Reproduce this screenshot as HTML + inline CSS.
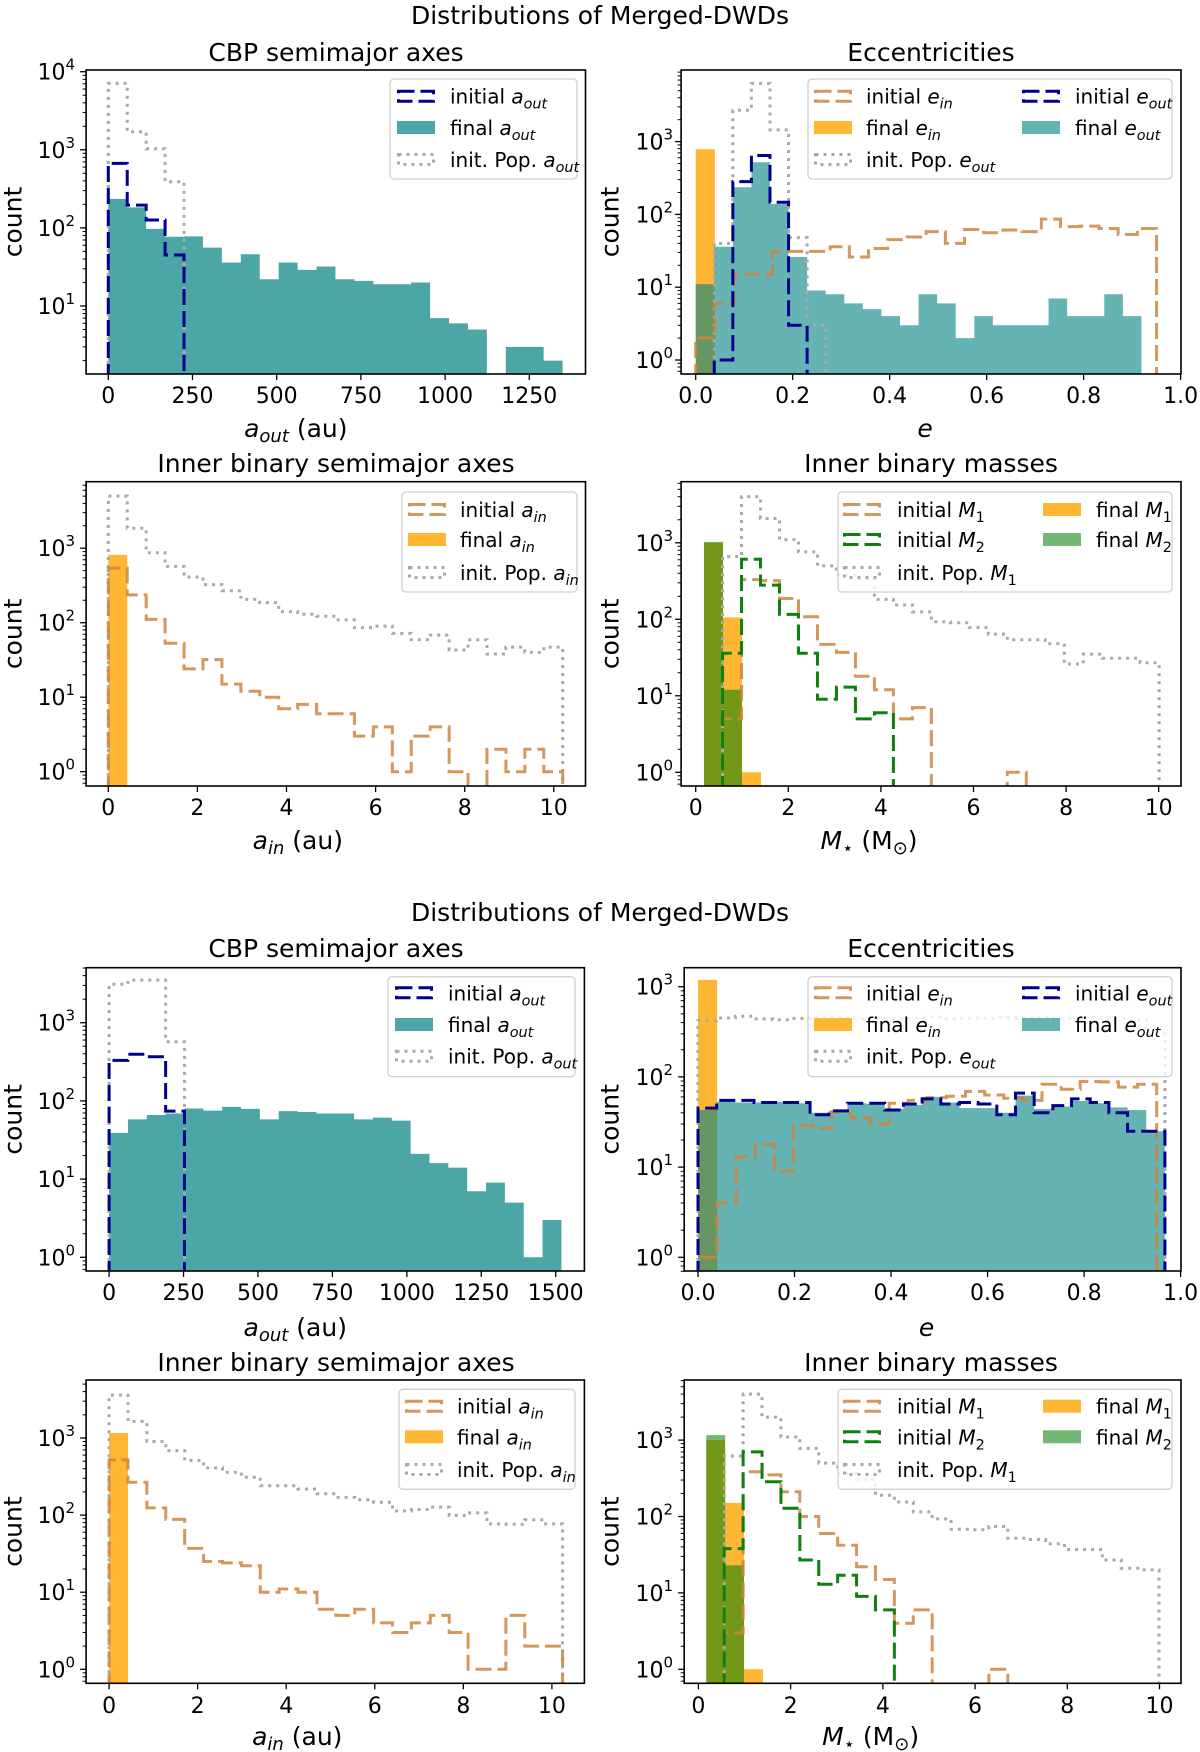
<!DOCTYPE html>
<html><head><meta charset="utf-8">
<style>
html,body{margin:0;padding:0;background:#fff;}
svg{display:block;font-family:"DejaVu Sans","Liberation Sans",sans-serif;}
.t{font-size:25px;fill:#000;text-anchor:middle;}
.tick{font-size:22px;fill:#000;}
.leg{font-size:20px;fill:#000;}
</style></head>
<body>
<svg id="fig" width="1200" height="1752" viewBox="0 0 1200 1752" xmlns="http://www.w3.org/2000/svg">
<rect x="0" y="0" width="1200" height="1752" fill="#fff"/>
<text class="t" x="600" y="24">Distributions of Merged-DWDs</text>
<text class="t" x="600" y="921">Distributions of Merged-DWDs</text>
<g id="plots"></g>
</svg>
<script>
// ---------------- DATA ----------------
// Panel 1 (top set): CBP semimajor axes
const p1Start = 0, p1Width = 56.2;
const p1FinalAout = [235,183,97,77,78,56,36,46,22,36,29,32,22,21,19,19,20,7,6,5,0,3,3,2];
const p1InitAout = [670,196,126,45];
const p1PopAout = [7100,1700,1030,390];
// Panel 2: eccentricities
const p2EoutWidth = 0.0383, p2EinWidth = 0.0396;
const p2FinalEin = [785];
const p2FinalEout = [11,36,236,520,139,26,9,8,6,5,4,3,8,6,2,4,3,3,3,7,4,4,8,4];
const p2InitEout = [0,1,282,643,147,3];
const p2PopEout = [0,40,2700,6300,1450,48,3];
const p2InitEin = [2,6,15,15,31,31,31,36,26,34,45,49,58,40,62,56,61,58,86,68,69,64,53,64];
// Panel 3: inner semimajor axes
const p3Width = 0.425;
const p3InitAin = [540,236,111,53,24,32,15,12,10,7,8,6,6,3,4,1,3,4,1,0,2,1,2,1];
const p3FinalAin = [815];
const p3PopAin = [5000,1850,870,570,410,325,268,206,186,141,130,122,109,86,90,72,59,68,43,59,38,47,40,47];
// Panel 4: inner masses
const p4FinalStart = 0.18, p4InitStart = 0.58, p4Width = 0.41;
const p4FinalM1 = [1000,106,1];
const p4FinalM2 = [1030,12];
const p4InitM1 = [5,330,320,187,108,47,37,18,12,5,7,0,0,0,0,1];
const p4InitM2 = [36,610,280,116,36,9,13,5,6];
const p4PopM1 = [660,4000,2080,1100,760,500,380,340,182,154,125,93,90,78,64,54,54,48,26,35,31,31,27];
// Panel 5 (bottom set): CBP semimajor axes
const p5Width = 63.3;
const p5FinalAout = [39,58,66,69,80,75,84,79,58,74,72,69,69,58,61,56,21,16,14,7,9,5,1,3];
const p5InitAout = [330,395,367,74];
const p5PopAout = [3100,3500,3500,570];
// Panel 6: eccentricities
const p6EoutWidth = 0.0387, p6EinWidth = 0.0396;
const p6FinalEin = [1190];
const p6FinalEout = [43,53,52,52,53,51,40,42,51,50,44,49,60,52,45,45,40,62,44,47,54,51,46,43,25];
const p6InitEout = [45,55,55,52,52,52,38,42,51,51,43,50,57,50,52,50,38,66,40,48,57,52,40,25,25];
const p6InitEin = [1,4,13,18,9,29,27,41,35,30,51,55,59,61,69,63,58,55,83,73,89,88,77,83];
const p6PopEout = [420,450,470,440,430,445,460,455,440,450,445,450,460,440,450,445,455,450,460,445,450,455,440,430,300];
// Panel 7: inner semimajor axes
const p7Width = 0.4267;
const p7InitAin = [520,267,124,88,37,25,24,22,10,11,10,6,5,6,4,3,4,5,3,1,1,5,2,2];
const p7FinalAin = [1160];
const p7PopAin = [3600,1640,900,685,510,410,360,310,240,240,218,189,170,158,147,113,118,127,99,107,77,76,87,77];
// Panel 8: inner masses
const p8FinalStart = 0.17, p8InitStart = 0.56, p8Width = 0.41;
const p8FinalM1 = [1000,151,1];
const p8FinalM2 = [1160,23];
const p8InitM1 = [3,385,350,211,100,60,42,22,15,4,6,0,0,0,1];
const p8InitM2 = [38,700,285,128,27,13,17,9,6];
const p8PopM1 = [620,4000,2000,1100,780,500,366,305,190,155,115,93,68,67,74,52,50,44,37,37,27,21,20];
// Tick labels
const xTicksAout1 = [0,250,500,750,1000,1250];
const xTicksAout2 = [0,250,500,750,1000,1250,1500];
const xTicksE = [0,0.2,0.4,0.6,0.8,1.0];
const xTicksTen = [0,2,4,6,8,10];

// ---------------- DRAWING ----------------
const NS = "http://www.w3.org/2000/svg";
const root = document.getElementById('plots');
function mk(tag, attrs, parent){
  const e = document.createElementNS(NS, tag);
  for (const k in attrs) e.setAttribute(k, attrs[k]);
  (parent||root).appendChild(e);
  return e;
}
const C = {
  teal7:'rgba(0,128,128,0.7)', teal6:'rgba(0,128,128,0.6)', orange:'rgba(255,165,0,0.8)',
  green:'rgba(0,128,0,0.55)', navy:'#00008b', peru:'rgba(205,133,63,0.85)', gdash:'#0f800f', gray:'#a9a9a9'
};
let clipId = 0;
function makePanel(g){
  const p = Object.assign({}, g);
  p.x = v => g.xa + v*(g.xb - g.xa)/g.vb;
  p.y = v => g.y0 - (Math.log10(v) - g.k0)*g.dec;
  p.grp = mk('g', {});
  
  
  const id = 'clip' + (clipId++);
  const cp = mk('clipPath', {id:id}, p.grp);
  mk('rect', {x:g.L, y:g.T, width:g.R-g.L, height:g.B-g.T}, cp);
  p.plot = mk('g', {'clip-path':'url(#'+id+')'}, p.grp);
  return p;
}
function stepD(p, start, width, vals){
  const bot = p.B + 6;
  let d = 'M' + p.x(start) + ',' + bot;
  vals.forEach((v,i)=>{
    const yy = v > 0 ? p.y(v) : bot;
    d += ' L' + p.x(start + i*width) + ',' + yy + ' L' + p.x(start + (i+1)*width) + ',' + yy;
  });
  d += ' L' + p.x(start + vals.length*width) + ',' + bot;
  return d;
}
function bars(p, start, width, vals, fill, nm){
  const e = mk('path', {d:stepD(p, start, width, vals) + ' Z', fill:fill, stroke:'none'}, p.plot);
  
  
}
function step(p, start, width, vals, stroke, dash, sw, nm){
  const e = mk('path', {d:stepD(p, start, width, vals), fill:'none', stroke:stroke, 'stroke-width':sw, 'stroke-dasharray':dash, 'stroke-linejoin':'miter'}, p.plot);
  
  
}
function axes(p, xticks, xfmt, kmin, kmax, ylabelX, ytickX, tickBase){
  const f = mk('rect', {x:p.L, y:p.T, width:p.R-p.L, height:p.B-p.T, fill:'none', stroke:'#000', 'stroke-width':1.6}, p.grp);
  
  
  xticks.forEach(v=>{
    const xx = p.x(v);
    mk('line', {x1:xx, x2:xx, y1:p.B, y2:p.B+6, stroke:'#000', 'stroke-width':1.3}, p.grp);
    const t = mk('text', {x:xx, y:tickBase, 'text-anchor':'middle', class:'tick'}, p.grp);
    
    
    t.textContent = xfmt(v);
  });
  for (let k = kmin-1; k <= kmax+1; k++){
    for (let m = 1; m < 10; m++){
      const yy = p.y(m*Math.pow(10,k));
      if (yy < p.T-0.5 || yy > p.B+0.5) continue;
      mk('line', {x1:p.L-(m==1?6:3.5), x2:p.L, y1:yy, y2:yy, stroke:'#000', 'stroke-width':m==1?1.3:1}, p.grp);
    }
  }
  for (let k = kmin; k <= kmax; k++){
    const yy = p.y(Math.pow(10,k));
    const t = mk('text', {x:ytickX, y:yy+8, 'text-anchor':'end', class:'tick'}, p.grp);
    
    
    const a = document.createElementNS(NS,'tspan'); a.textContent = '10'; t.appendChild(a);
    const b = document.createElementNS(NS,'tspan'); b.setAttribute('dy','-10'); b.setAttribute('font-size','15'); b.textContent = String(k); t.appendChild(b);
  }
  const yl = mk('text', {x:ylabelX, y:(p.T+p.B)/2, class:'t', transform:'rotate(-90 '+ylabelX+' '+(p.T+p.B)/2+')', 'dominant-baseline':'central'}, p.grp);
  
  
  yl.textContent = 'count';
}
function richText(parent, x, y, segs, cls, nm){
  const t = mk('text', {x:x, y:y, class:cls}, parent);
  
  
  segs.forEach(s=>{
    const ts = document.createElementNS(NS,'tspan');
    ts.textContent = s[0];
    if (s[1]==='i') ts.setAttribute('font-style','italic');
    if (s[1]==='sub' || s[1]==='subn'){
      if (s[1]==='sub') ts.setAttribute('font-style','italic');
      ts.setAttribute('font-size', '0.72em'); ts.setAttribute('dy', '5');
    }
    if (s[1]==='up'){ ts.setAttribute('dy','-5'); }
    t.appendChild(ts);
  });
  return t;
}
function legend(p, box, items){
  const g = mk('g', {}, p.grp);
  
  
  mk('rect', {x:box[0], y:box[1], width:box[2], height:box[3], rx:4, fill:'rgba(255,255,255,0.8)', stroke:'#d0d0d0', 'stroke-width':1.3}, g);
  items.forEach(it=>{
    const hx = it.hx, hy = it.y - 7, hw = 38, hh = 13;
    let h;
    if (it.type==='fill') h = mk('rect', {x:hx, y:hy, width:hw, height:hh, fill:it.c}, g);
    else h = mk('rect', {x:hx+1.5, y:hy+1.5, width:hw-3, height:hh-3, fill:'none', stroke:it.c, 'stroke-width':it.sw||3, 'stroke-dasharray':it.dash}, g);
    
    
    richText(g, it.tx, it.y+7, it.segs, 'leg', 'legend-entry');
  });
}
const DASH = '16,6', DOT = '3,5';
function fmtE(v){ return v.toFixed(1); }
function fmtI(v){ return String(v); }
function rowTitle(x, y, s, nm){ const t = mk('text', {x:x, y:y, class:'t'});   t.textContent = s; }

function aoutPanel(name, geom, finalV, finalW, initV, popV, ticks, kmin, kmax, legBox, rows, fillC, xlabY, tickY){
  const p = makePanel(Object.assign({name:name}, geom));
  bars(p, 0, finalW, finalV, fillC, 'final-aout');
  step(p, 0, finalW, popV, C.gray, DOT, 3, 'init-pop-aout');
  step(p, 0, finalW, initV, C.navy, DASH, 3, 'initial-aout');
  axes(p, ticks, fmtI, kmin, kmax, 13, 75, tickY);
  const hx = legBox[0]+7, tx = legBox[0]+60;
  legend(p, legBox, [
    {type:'line', c:C.navy, dash:DASH, hx:hx, tx:tx, y:rows[0], segs:[['initial '],['a','i'],['out','sub']]},
    {type:'fill', c:fillC, hx:hx, tx:tx, y:rows[1], segs:[['final '],['a','i'],['out','sub']]},
    {type:'line', c:C.gray, dash:DOT, sw:3, hx:hx, tx:tx, y:rows[2], segs:[['init. Pop. '],['a','i'],['out','sub']]}
  ]);
  richText(root, (geom.L+geom.R)/2-40, xlabY, [['a','i'],['out','sub'],[' (au)','up']], 't', 'x-axis-title');
}
function ePanel(name, geom, finEin, einW, finEout, eoutW, initEout, popEout, initEin, legBox, rows, xlabY, tickY){
  const p = makePanel(Object.assign({name:name}, geom));
  bars(p, 0, einW, finEin, C.orange, 'final-ein');
  bars(p, 0, eoutW, finEout, C.teal6, 'final-eout');
  step(p, 0, eoutW, popEout, C.gray, DOT, 3, 'init-pop-eout');
  step(p, 0, einW, initEin, C.peru, DASH, 3, 'initial-ein');
  step(p, 0, eoutW, initEout, C.navy, DASH, 3, 'initial-eout');
  axes(p, xTicksE, fmtE, 0, 3, 610, 673, tickY);
  const h1 = legBox[0]+6, t1 = legBox[0]+58, h2 = legBox[0]+214, t2 = legBox[0]+267;
  legend(p, legBox, [
    {type:'line', c:C.peru, dash:DASH, hx:h1, tx:t1, y:rows[0], segs:[['initial '],['e','i'],['in','sub']]},
    {type:'fill', c:C.orange, hx:h1, tx:t1, y:rows[1], segs:[['final '],['e','i'],['in','sub']]},
    {type:'line', c:C.gray, dash:DOT, sw:3, hx:h1, tx:t1, y:rows[2], segs:[['init. Pop. '],['e','i'],['out','sub']]},
    {type:'line', c:C.navy, dash:DASH, hx:h2, tx:t2, y:rows[0], segs:[['initial '],['e','i'],['out','sub']]},
    {type:'fill', c:C.teal6, hx:h2, tx:t2, y:rows[1], segs:[['final '],['e','i'],['out','sub']]}
  ]);
  richText(root, (geom.L+geom.R)/2-6, xlabY, [['e','i']], 't', 'x-axis-title');
}
function ainPanel(name, geom, w, initV, finV, popV, legBox, rows, xlabY, tickY){
  const p = makePanel(Object.assign({name:name}, geom));
  bars(p, 0, w, finV, C.orange, 'final-ain');
  step(p, 0, w, popV, C.gray, DOT, 3, 'init-pop-ain');
  step(p, 0, w, initV, C.peru, DASH, 3, 'initial-ain');
  axes(p, xTicksTen, fmtI, 0, 3, 13, 75, tickY);
  const hx = legBox[0]+6, tx = legBox[0]+58;
  legend(p, legBox, [
    {type:'line', c:C.peru, dash:DASH, hx:hx, tx:tx, y:rows[0], segs:[['initial '],['a','i'],['in','sub']]},
    {type:'fill', c:C.orange, hx:hx, tx:tx, y:rows[1], segs:[['final '],['a','i'],['in','sub']]},
    {type:'line', c:C.gray, dash:DOT, sw:3, hx:hx, tx:tx, y:rows[2], segs:[['init. Pop. '],['a','i'],['in','sub']]}
  ]);
  richText(root, (geom.L+geom.R)/2-38, xlabY, [['a','i'],['in','sub'],[' (au)','up']], 't', 'x-axis-title');
}
function mPanel(name, geom, fs, is, w, finM1, finM2, initM1, initM2, popM1, legBox, rows, xlabY, tickY){
  const p = makePanel(Object.assign({name:name}, geom));
  bars(p, fs, w, finM1, C.orange, 'final-m1');
  bars(p, fs, w, finM2, C.green, 'final-m2');
  step(p, is, w, popM1, C.gray, DOT, 3, 'init-pop-m1');
  step(p, is, w, initM1, C.peru, DASH, 3, 'initial-m1');
  step(p, is, w, initM2, C.gdash, DASH, 3, 'initial-m2');
  axes(p, xTicksTen, fmtI, 0, 3, 610, 673, tickY);
  const h1 = legBox[0]+5, t1 = legBox[0]+59, h2 = legBox[0]+205, t2 = legBox[0]+258;
  legend(p, legBox, [
    {type:'line', c:C.peru, dash:DASH, hx:h1, tx:t1, y:rows[0], segs:[['initial '],['M','i'],['1','subn']]},
    {type:'line', c:C.gdash, dash:DASH, hx:h1, tx:t1, y:rows[1], segs:[['initial '],['M','i'],['2','subn']]},
    {type:'line', c:C.gray, dash:DOT, sw:3, hx:h1, tx:t1, y:rows[2], segs:[['init. Pop. '],['M','i'],['1','subn']]},
    {type:'fill', c:C.orange, hx:h2, tx:t2, y:rows[0], segs:[['final '],['M','i'],['1','subn']]},
    {type:'fill', c:C.green, hx:h2, tx:t2, y:rows[1], segs:[['final '],['M','i'],['2','subn']]}
  ]);
  richText(root, (geom.L+geom.R)/2-62, xlabY, [['M','i'],['⋆','subn'],[' (M','up'],['⊙','subn'],[')','up']], 't', 'x-axis-title');
}

// Row titles
rowTitle(336, 61, 'CBP semimajor axes', 'title-cbp-top');
rowTitle(931, 61, 'Eccentricities', 'title-ecc-top');
rowTitle(336, 472, 'Inner binary semimajor axes', 'title-ain-top');
rowTitle(931, 472, 'Inner binary masses', 'title-mass-top');
rowTitle(336, 957, 'CBP semimajor axes', 'title-cbp-bottom');
rowTitle(931, 957, 'Eccentricities', 'title-ecc-bottom');
rowTitle(336, 1371, 'Inner binary semimajor axes', 'title-ain-bottom');
rowTitle(931, 1371, 'Inner binary masses', 'title-mass-bottom');

aoutPanel('panel-cbp-top', {L:86.1,R:585.5,T:70,B:374,xa:108.3,xb:529.3,vb:1250,y0:306,k0:1,dec:78.1},
  p1FinalAout, p1Width, p1InitAout, p1PopAout, xTicksAout1, 1, 4, [390,79,187,100], [96.7,128,160], C.teal7, 437, 403);
ePanel('panel-ecc-top', {L:681.1,R:1181,T:70,B:374,xa:695.7,xb:1180.6,vb:1,y0:360,k0:0,dec:72.8},
  p2FinalEin, p2EinWidth, p2FinalEout, p2EoutWidth, p2InitEout, p2PopEout, p2InitEin, [808,79,364,100], [96.7,128,160], 437, 403);
ainPanel('panel-ain-top', {L:86.1,R:585.5,T:481.7,B:786,xa:108.3,xb:553.8,vb:10,y0:771.7,k0:0,dec:74.5},
  p3Width, p3InitAin, p3FinalAin, p3PopAin, [402,492,175,100], [510,540,573], 849, 815);
mPanel('panel-mass-top', {L:681.1,R:1181,T:481.7,B:786,xa:695.7,xb:1158.7,vb:10,y0:772.3,k0:0,dec:76.5},
  p4FinalStart, p4InitStart, p4Width, p4FinalM1, p4FinalM2, p4InitM1, p4InitM2, p4PopM1, [838,492,334,100], [510,540,573], 849, 815);
aoutPanel('panel-cbp-bottom', {L:86.1,R:584.4,T:967.7,B:1271,xa:109.1,xb:555.7,vb:1500,y0:1257.3,k0:0,dec:78.2},
  p5FinalAout, p5Width, p5InitAout, p5PopAout, xTicksAout2, 0, 3, [388,976.7,187,100], [993.3,1025,1056.7], C.teal7, 1336, 1300);
ePanel('panel-ecc-bottom', {L:684.2,R:1181,T:967.7,B:1271,xa:698,xb:1180.6,vb:1,y0:1257.3,k0:0,dec:90.2},
  p6FinalEin, p6EinWidth, p6FinalEout, p6EoutWidth, p6InitEout, p6PopEout, p6InitEin, [808,976.7,364,100], [993.3,1025,1056.7], 1336, 1300);
ainPanel('panel-ain-bottom', {L:86.1,R:584.4,T:1380,B:1683.3,xa:109.1,xb:551.9,vb:10,y0:1669.3,k0:0,dec:77.1},
  p7Width, p7InitAin, p7FinalAin, p7PopAin, [399,1389.3,176,100], [1406.7,1437.3,1470], 1745, 1713);
mPanel('panel-mass-bottom', {L:684.2,R:1181,T:1380,B:1683.3,xa:698.4,xb:1159.5,vb:10,y0:1669.3,k0:0,dec:76.4},
  p8FinalStart, p8InitStart, p8Width, p8FinalM1, p8FinalM2, p8InitM1, p8InitM2, p8PopM1, [838,1389.3,334,100], [1406.7,1437.3,1470], 1745, 1713);
</script>
</body></html>
